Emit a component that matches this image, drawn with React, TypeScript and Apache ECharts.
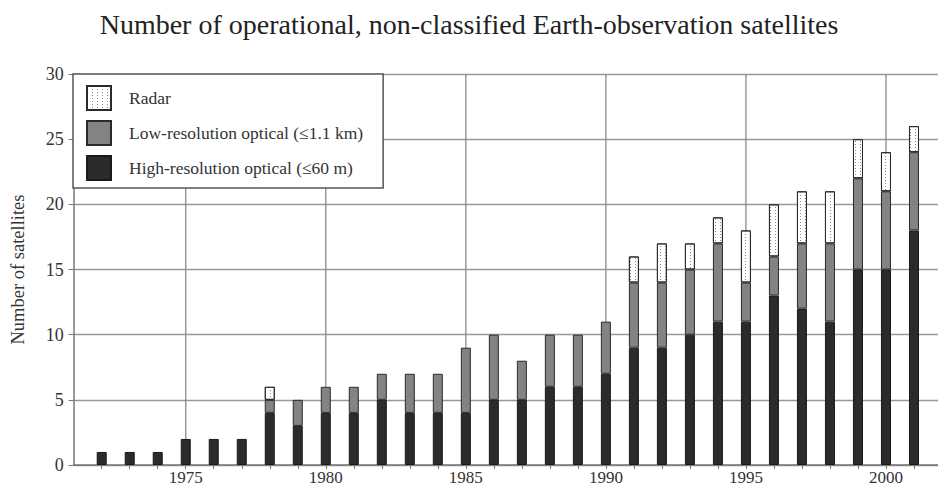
import React, { useEffect, useRef } from "react";
import * as echarts from "echarts";

const years = ["1972", "1973", "1974", "1975", "1976", "1977", "1978", "1979", "1980", "1981", "1982", "1983", "1984", "1985", "1986", "1987", "1988", "1989", "1990", "1991", "1992", "1993", "1994", "1995", "1996", "1997", "1998", "1999", "2000", "2001"];
const highRes = [1, 1, 1, 2, 2, 2, 4, 3, 4, 4, 5, 4, 4, 4, 5, 5, 6, 6, 7, 9, 9, 10, 11, 11, 13, 12, 11, 15, 15, 18];
const lowRes = [0, 0, 0, 0, 0, 0, 1, 2, 2, 2, 2, 3, 3, 5, 5, 3, 4, 4, 4, 5, 5, 5, 6, 3, 3, 5, 6, 7, 6, 6];
const radar = [0, 0, 0, 0, 0, 0, 1, 0, 0, 0, 0, 0, 0, 0, 0, 0, 0, 0, 0, 2, 3, 2, 2, 4, 4, 4, 4, 3, 3, 2];
const majorYears = ["1975", "1980", "1985", "1990", "1995", "2000"];
const yTicks = [0, 5, 10, 15, 20, 25, 30];

const TITLE = "Number of operational, non-classified Earth-observation satellites";
const Y_NAME = "Number of satellites";
const NAME_RADAR = "Radar";
const NAME_LOW = "Low-resolution optical (\u22641.1 km)";
const NAME_HIGH = "High-resolution optical (\u226460 m)";

const FONT = "'Liberation Serif', 'Times New Roman', serif";

export default function App() {
  const ref = useRef<HTMLDivElement>(null);
  useEffect(() => {
    if (!ref.current) return;
    const chart = echarts.init(ref.current, null, { renderer: "svg" });
    // one empty year of room on each side of the bars (axis runs 1971 -> 2002)
    const padBefore = String(Number(years[0]) - 1);
    const padAfter = String(Number(years[years.length - 1]) + 1);
    const categories = [padBefore].concat(years, [padAfter]);
    const toData = (arr: number[]) =>
      [null as number | null].concat(arr.map((v) => (v === 0 ? null : v)), [null]);
    const yMax = yTicks[yTicks.length - 1];
    const barCommon = {
      type: "bar",
      stack: "total",
      barWidth: 10,
      z: 2,
    };
    chart.setOption({
      animation: false,
      backgroundColor: "#ffffff",
      title: {
        text: TITLE,
        left: "center",
        top: 5,
        textStyle: { fontFamily: FONT, fontSize: 28, fontWeight: "normal", color: "#222" },
      },
      legend: {
        data: [NAME_RADAR, NAME_LOW, NAME_HIGH],
        orient: "vertical",
        left: 73,
        top: 74,
        icon: "rect",
        itemWidth: 24,
        itemHeight: 24,
        itemGap: 9,
        padding: [11, 20, 7, 13],
        backgroundColor: "#ffffff",
        borderColor: "#555",
        borderWidth: 1.5,
        textStyle: { fontFamily: FONT, fontSize: 17.5, color: "#333", padding: [0, 0, 0, 13] },
        z: 10,
      },
      grid: { left: 73.7, top: 74, right: -4, bottom: 24, outerBoundsMode: "none", containLabel: false },
      xAxis: {
        type: "category",
        data: categories,
        boundaryGap: false,
        splitLine: { show: false },
        axisLine: { show: true, lineStyle: { color: "#777", width: 1.5 } },
        axisTick: {
          show: true,
          length: 4,
          interval: (i: number, v: string) => years.indexOf(v) >= 0,
          lineStyle: { color: "#777" },
        },
        axisLabel: {
          margin: 5,
          fontFamily: FONT,
          fontSize: 17,
          lineHeight: 15,
          color: "#333",
          interval: (i: number, v: string) => majorYears.indexOf(v) >= 0,
        },
      },
      yAxis: {
        type: "value",
        min: yTicks[0],
        max: yMax,
        interval: yTicks[1] - yTicks[0],
        name: Y_NAME,
        nameLocation: "middle",
        nameRotate: 90,
        nameGap: 46,
        nameTextStyle: { fontFamily: FONT, fontSize: 18.5, color: "#333" },
        axisLine: { show: true, lineStyle: { color: "#777", width: 1.5 } },
        axisTick: { show: true, length: 5, lineStyle: { color: "#777" } },
        axisLabel: { margin: 10, fontFamily: FONT, fontSize: 18, color: "#333" },
        splitLine: { show: true, lineStyle: { color: "#999", width: 1.3 } },
      },
      series: [
        {
          type: "custom",
          name: "vgrid",
          z: 1,
          silent: true,
          data: majorYears.map((y) => [y, 0]),
          encode: { x: 0, y: 1 },
          renderItem: (params: any, api: any) => {
            const p0 = api.coord([api.value(0), 0]);
            const p1 = api.coord([api.value(0), yMax]);
            return {
              type: "line",
              shape: { x1: p0[0], y1: p0[1], x2: p1[0], y2: p1[1] },
              style: { stroke: "#8a8a8a", lineWidth: 1.3 },
            };
          },
        },
        {
          ...barCommon,
          name: NAME_HIGH,
          data: toData(highRes),
          itemStyle: { color: "#2b2b2b", borderColor: "#1a1a1a", borderWidth: 1 },
        },
        {
          ...barCommon,
          name: NAME_LOW,
          data: toData(lowRes),
          itemStyle: { color: "#838383", borderColor: "#2a2a2a", borderWidth: 1 },
        },
        {
          ...barCommon,
          name: NAME_RADAR,
          data: toData(radar),
          itemStyle: {
            color: "#ffffff",
            borderColor: "#2a2a2a",
            borderWidth: 1,
            decal: {
              symbol: "rect",
              symbolSize: 1,
              color: "#888",
              backgroundColor: "#ffffff",
              dashArrayX: [1, 4],
              dashArrayY: [1, 2],
              rotation: 0,
            },
          },
        },
      ],
    });
    return () => chart.dispose();
  }, []);
  return (
    <div
      ref={ref}
      style={{ position: "fixed", left: 0, top: 0, width: 938, height: 489 }}
    />
  );
}
